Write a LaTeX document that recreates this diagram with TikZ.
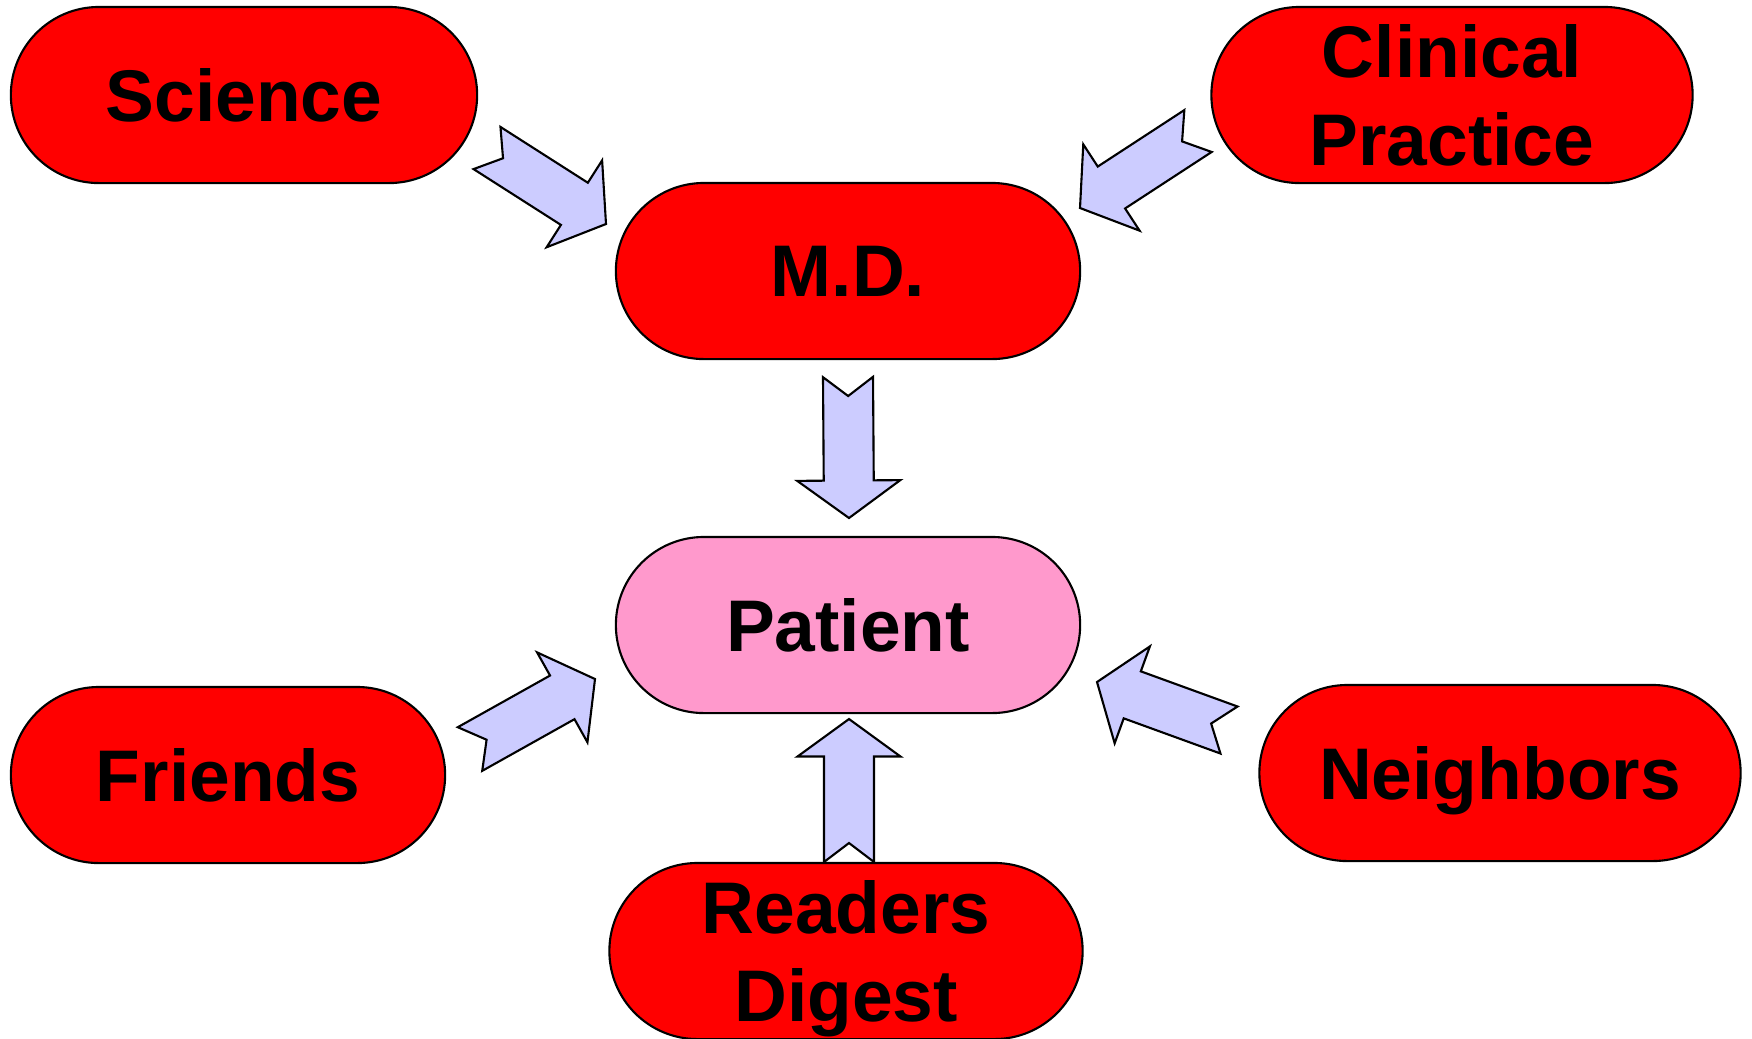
\documentclass[tikz,border=0pt]{standalone}
\usepackage{fontspec}
\setmainfont{Liberation Sans}
\usetikzlibrary{shapes.misc,calc}

\definecolor{arrowblue}{HTML}{CCCCFF}
\definecolor{patientpink}{HTML}{FF99CC}

\newcommand{\blockarrow}[2]{%
  \draw[flowarrow]
    ($(#1)!0.25cm!90:(#2)$) -- ($(#1)!0.19cm!(#2)$) -- ($(#1)!0.25cm!-90:(#2)$)
    -- ($(#2)!0.375cm!(#1)!0.25cm!90:(#1)$) -- ($(#2)!0.375cm!(#1)!0.515cm!90:(#1)$)
    -- (#2)
    -- ($(#2)!0.375cm!(#1)!0.515cm!-90:(#1)$) -- ($(#2)!0.375cm!(#1)!0.25cm!-90:(#1)$)
    -- cycle;}

\begin{document}
\begin{tikzpicture}[x=0.01cm, y=-0.01cm,
  every node/.style = {rounded rectangle, draw, line width=0.6pt,
    fill=red, minimum height=1.76cm, inner sep=0pt, align=center,
    text depth=0pt, font=\fontsize{20.8}{25}\selectfont\bfseries},
  flowarrow/.style = {draw, line width=0.6pt, fill=arrowblue, line join=miter}]

  \useasboundingbox (0,0) rectangle (1752,1038);

  \node[minimum width=4.66cm] (science) at (244,95) {Science};
  \node[minimum width=4.81cm] (clinical) at (1452,95) {Clinical\\Practice};
  \node[minimum width=4.64cm] (md) at (848,271) {M.D.};
  \node[minimum width=4.64cm, fill=patientpink] (patient) at (848,625) {Patient};
  \node[minimum width=4.34cm] (friends) at (228,775) {Friends};
  \node[minimum width=4.81cm] (neighbors) at (1500,773) {Neighbors};
  \node[minimum width=4.73cm] (digest) at (846,951) {Readers\\Digest};

  \coordinate (science-tail) at (487,148);
  \coordinate (science-tip) at (606,224);
  \coordinate (clinical-tail) at (1198,131);
  \coordinate (clinical-tip) at (1080,208);
  \coordinate (md-tail) at (848,377);
  \coordinate (md-tip) at (849,518);
  \coordinate (friends-tail) at (470,749);
  \coordinate (friends-tip) at (595,679);
  \coordinate (digest-tail) at (849,862);
  \coordinate (digest-tip) at (849,719);
  \coordinate (neighbors-tail) at (1229,730);
  \coordinate (neighbors-tip) at (1097,682);

  \foreach \src in {science, clinical, md, friends, digest, neighbors}
    \blockarrow{\src-tail}{\src-tip};
\end{tikzpicture}
\end{document}
